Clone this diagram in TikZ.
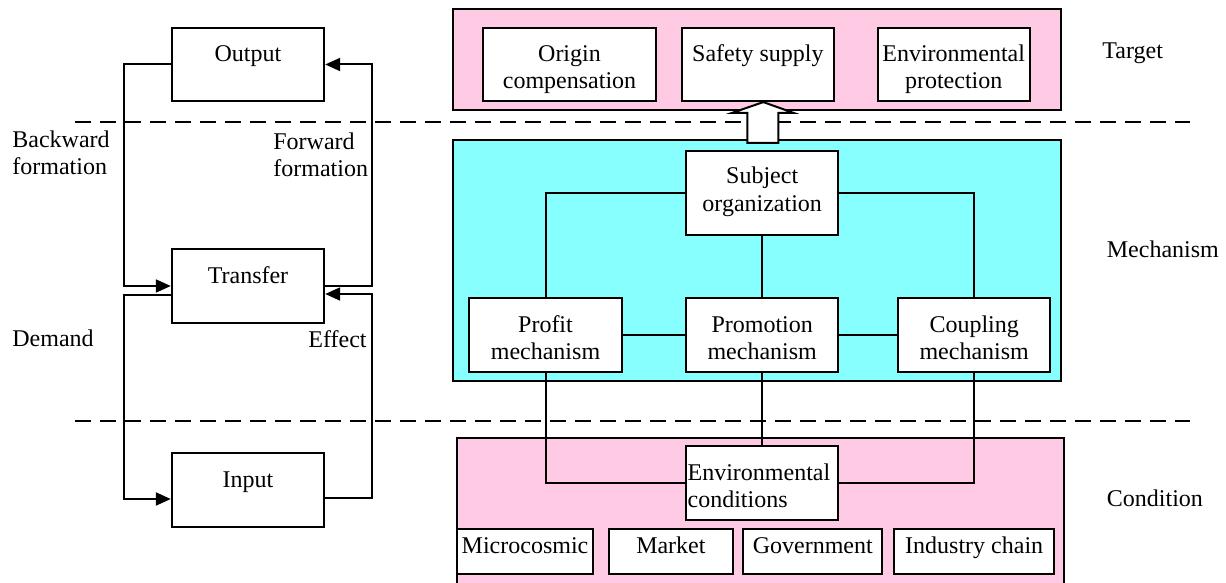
\documentclass[tikz,border=0pt]{standalone}
\usepackage{fontspec}
\setmainfont{Liberation Serif}
\newfontfamily\diagramfont{Liberation Serif}
\usetikzlibrary{arrows.meta,calc}
\definecolor{targetpink}{RGB}{255,202,228}
\definecolor{mechcyan}{RGB}{135,255,255}
\newcommand\boxtext[2][c]{\begin{tabular}[t]{@{}#1@{}}#2\end{tabular}}
\tikzset{
	box/.style={draw, fill=white, line width=1pt, inner sep=0pt, text height=17pt, text depth=19.7pt, minimum width=76.2pt},
	smallbox/.style={box, text height=12.3pt, text depth=10.05pt},
	lbl/.style={anchor=west, inner sep=0pt, align=left},
	link/.style={line width=1pt},
	flow/.style={line width=1pt, -{Triangle[length=7.5pt,width=6.5pt]}},
	layer/.style={line width=1pt, dash pattern=on 8pt off 4.5pt},
}

\begin{document}
\begin{tikzpicture}[x=0.5pt, y=-0.5pt, font=\diagramfont\fontsize{12}{13.5}\selectfont]
		\useasboundingbox (0,0) rectangle (1226,583);
		\clip (0,0) rectangle (1226,583);
		%%%%% LAYERS %%%%%
		\draw[line width=1pt, fill=targetpink] (453,9) rectangle (1061,110);
		\draw[line width=1pt, fill=mechcyan] (453,140) rectangle (1061,381);
		\draw[line width=1pt, fill=targetpink] (457,438) rectangle (1064,600);
		\draw[layer] (75,122.5) -- (1190,122.5);
		\draw[layer] (75,421) -- (1190,421);
		
		%%%%% LOOP %%%%%
		\node[box] (output) at (248,64.5) {Output};
		\node[box, text depth=20pt] (transfer) at (248,286) {Transfer};
		\node[box, text depth=20pt] (input) at (248,490) {Input};
		\coordinate (lft) at (124,0);
		\coordinate (rgt) at (372,0);
		\coordinate (transfer-lo-w) at ([yshift=-4.5pt]transfer.west);
		\coordinate (input-lo-w) at ([yshift=-4.5pt]input.west);
		\coordinate (transfer-lo-e) at ([yshift=-4pt]transfer.east);
		\coordinate (input-lo-e) at ([yshift=-4pt]input.east);
		\draw[flow] (output.west) -| (lft |- transfer.west) -- (transfer.west);
		\draw[flow] (transfer-lo-w) -| (lft |- input-lo-w) -- (input-lo-w);
		\draw[flow] (transfer.east) -| (rgt |- output.east) -- (output.east);
		\draw[flow] (input-lo-e) -| (rgt |- transfer-lo-e) -- (transfer-lo-e);
		
		\node[lbl] (backward) at (12,152.5) {Backward\\formation};
		\node[lbl] (forward) at (273,154.5) {Forward\\formation};
		\node[lbl] (demand) at (12,338) {Demand};
		\node[lbl] (effect) at (308,339) {Effect};
		\node[lbl] (target) at (1102,53) {Target};
		\node[lbl] (mechanism) at (1106.5,249.3) {Mechanism};
		\node[lbl] (condition) at (1106.5,498.3) {Condition};
		
		%%%%% TARGET %%%%%
		\node[box, minimum width=86.2pt] (orig) at (569.5,64.4) {\boxtext{Origin\\compensation}};
		\node[box] (safe) at (757.9,64.4) {Safety supply};
		\node[box] (envp) at (953.7,64.4) {\boxtext{Environmental\\protection}};
		
		%%%%% MECHANISM %%%%%
		\node[box, text height=16.5pt, text depth=25.5pt] (subj) at (762.2,193) {\boxtext{Subject\\organization}};
		\node[box] (prof) at (545.5,335) {\boxtext{Profit\\mechanism}};
		\node[box] (prom) at (762.2,335) {\boxtext{Promotion\\mechanism}};
		\node[box] (coup) at (974.2,335) {\boxtext{Coupling\\mechanism}};
		\draw[link] (subj.west) -| (prof.north);
		\draw[link] (subj.east) -| (coup.north);
		\draw[link] (subj.south) -- (prom.north);
		\draw[link] (prof.east) -- (prom.west);
		\draw[link] (prom.east) -- (coup.west);
		
		%%%%% CONDITION %%%%%
		\node[box, text depth=20pt] (envc) at (762.2,483) {\makebox[76.2pt][l]{\hspace{0.8pt}\boxtext[l]{Environmental\\conditions}}};
		\node[smallbox, minimum width=68.3pt] (micro) at (525,551.7) {Microcosmic};
		\node[smallbox, minimum width=61.85pt] (market) at (670.9,551.7) {Market};
		\node[smallbox, minimum width=69.5pt] (gov) at (812.8,551.7) {Government};
		\node[smallbox, minimum width=80.15pt] (chain) at (974.2,551.7) {Industry chain};
		\draw[link] (prof.south) |- (envc.west);
		\draw[link] (prom.south) -- (envc.north);
		\draw[link] (coup.south) |- (envc.east);
		
		%%%%% SUPPORT ARROW %%%%%
		\draw[line width=1pt, fill=white] ([xshift=2.7pt]safe.south) -- ++(30,10.7) -- ++(-15,0) -- ++(0,30) -- ++(-31,0) -- ++(0,-30) -- ++(-15,0) -- cycle;
	\end{tikzpicture}
\end{document}
